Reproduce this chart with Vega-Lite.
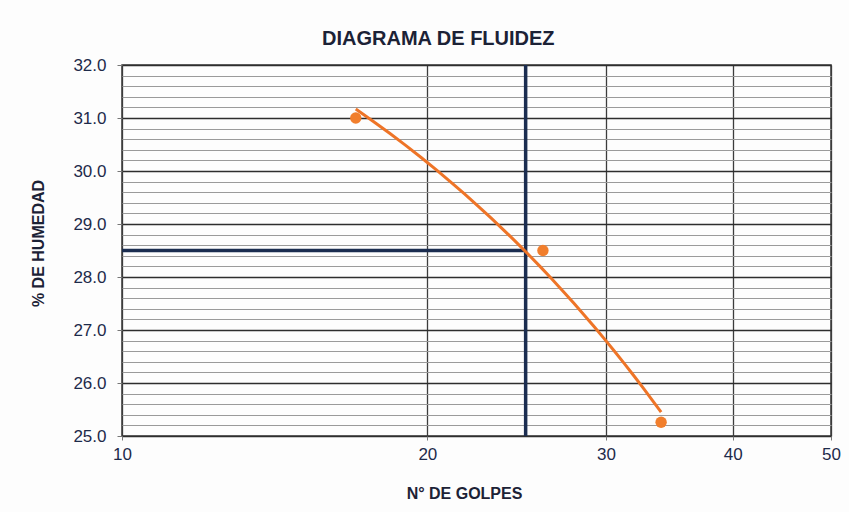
{
  "$schema": "https://vega.github.io/schema/vega-lite/v6.json",
  "width": 709,
  "height": 371,
  "autosize": "none",
  "padding": {"left": 122, "top": 65, "right": 18, "bottom": 76},
  "background": "#fdfdfd",
  "title": {
    "text": "DIAGRAMA DE FLUIDEZ",
    "anchor": "start",
    "frame": "group",
    "dx": 200,
    "offset": 7,
    "font": "Liberation Sans",
    "fontSize": 20,
    "fontWeight": "bold",
    "color": "#1c2236"
  },
  "config": {
    "view": {"stroke": "#3a3a3a", "strokeWidth": 1.5},
    "axis": {
      "labelFont": "Liberation Sans",
      "labelFontSize": 17,
      "labelColor": "#1d2a4a",
      "titleFont": "Liberation Sans",
      "titleFontSize": 16,
      "titleFontWeight": "bold",
      "titleColor": "#1c2236",
      "domain": false,
      "labelFlush": false,
      "labelOverlap": false
    }
  },
  "datasets": {
    "puntos": [
      {"golpes": 17, "humedad": 31.0},
      {"golpes": 26, "humedad": 28.5},
      {"golpes": 34, "humedad": 25.26}
    ],
    "vertical": [{"golpes": 25, "humedad": 25, "humedad2": 32}],
    "horizontal": [{"golpes": 10, "golpes2": 25, "humedad": 28.5}]
  },
  "layer": [
    {
      "data": {"name": "vertical"},
      "mark": {"type": "rule", "color": "#1b2d50", "strokeWidth": 3.5},
      "encoding": {
        "x": {
          "field": "golpes", "type": "quantitative",
          "scale": {"type": "log", "domain": [10, 50], "nice": false},
          "axis": {
            "values": [10, 20, 30, 40, 50],
            "tickCount": 100,
            "format": "d",
            "grid": true,
            "gridColor": "#3c3c3c",
            "gridWidth": 1.3,
            "tickSize": 4,
            "tickColor": "#777",
            "labelPadding": 6,
            "title": "N° DE GOLPES",
            "titleX": 342,
            "titleY": 57,
            "titleBaseline": "middle"
          }
        },
        "y": {
          "field": "humedad", "type": "quantitative",
          "scale": {"domain": [25, 32], "nice": false, "zero": false},
          "axis": {
            "values": [25, 25.2, 25.4, 25.6, 25.8, 26, 26.2, 26.4, 26.6, 26.8, 27, 27.2, 27.4, 27.6, 27.8, 28, 28.2, 28.4, 28.6, 28.8, 29, 29.2, 29.4, 29.6, 29.8, 30, 30.2, 30.4, 30.6, 30.8, 31, 31.2, 31.4, 31.6, 31.8, 32],
            "tickCount": 100,
            "labelExpr": "abs(datum.value - round(datum.value)) < 0.01 ? format(datum.value, '.1f') : ''",
            "grid": true,
            "gridColor": {"condition": {"test": "abs(datum.value - round(datum.value)) < 0.01", "value": "#2e2e2e"}, "value": "#9a9a9a"},
            "gridWidth": {"condition": {"test": "abs(datum.value - round(datum.value)) < 0.01", "value": 1.6}, "value": 1.1},
            "tickOpacity": {"condition": {"test": "abs(datum.value - round(datum.value)) < 0.01", "value": 1}, "value": 0},
            "tickSize": 5,
            "tickColor": "#777",
            "labelPadding": 11,
            "title": "% DE HUMEDAD",
            "titleAngle": 270,
            "titleAlign": "center",
            "titleBaseline": "middle",
            "titleX": -84,
            "titleY": 178
          }
        },
        "y2": {"field": "humedad2"}
      }
    },
    {
      "data": {"name": "horizontal"},
      "mark": {"type": "rule", "color": "#1b2d50", "strokeWidth": 3.5},
      "encoding": {
        "x": {"field": "golpes", "type": "quantitative"},
        "x2": {"field": "golpes2"},
        "y": {"field": "humedad", "type": "quantitative"}
      }
    },
    {
      "data": {"name": "puntos"},
      "transform": [
        {"regression": "humedad", "on": "golpes", "method": "poly", "order": 1}
      ],
      "mark": {"type": "line", "color": "#ee7427", "strokeWidth": 3},
      "encoding": {
        "x": {"field": "golpes", "type": "quantitative"},
        "y": {"field": "humedad", "type": "quantitative"}
      }
    },
    {
      "data": {"name": "puntos"},
      "mark": {"type": "point", "filled": true, "shape": "circle", "size": 130, "color": "#f17e2c", "opacity": 1},
      "encoding": {
        "x": {"field": "golpes", "type": "quantitative"},
        "y": {"field": "humedad", "type": "quantitative"}
      }
    }
  ]
}
